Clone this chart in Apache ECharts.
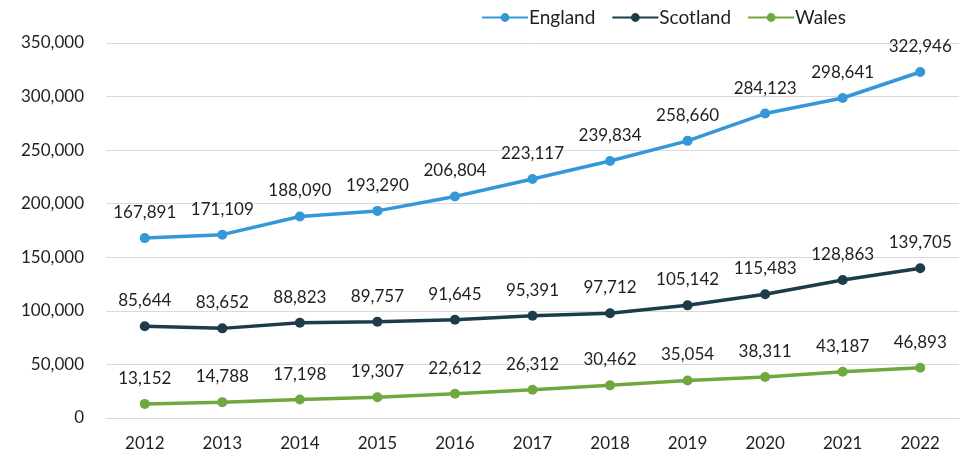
<!DOCTYPE html>
<html><head><meta charset="utf-8">
<script src="https://cdn.jsdelivr.net/npm/echarts@6/dist/echarts.min.js"></script>
<style>html,body{margin:0;padding:0;background:#fff}#c{width:974px;height:457px}</style>
</head><body><div id="c"></div>
<script>
const years = ['2012','2013','2014','2015','2016','2017','2018','2019','2020','2021','2022'];
const england = [167891,171109,188090,193290,206804,223117,239834,258660,284123,298641,322946];
const scotland = [85644,83652,88823,89757,91645,95391,97712,105142,115483,128863,139705];
const wales = [13152,14788,17198,19307,22612,26312,30462,35054,38311,43187,46893];
const FONT = 'Lato';
const TXT = '#1f1f1f';
const fmt = v => v.toLocaleString('en-US');
function mk(name, data, color){
  return {name, type:'line', data, symbol:'circle', symbolSize:10,
    itemStyle:{color}, lineStyle:{width:3.5,color},
    label:{show:true, position:'top', distance:12, color:TXT, fontFamily:FONT, fontSize:17,
      formatter:p=>fmt(p.value)}};
}
const chart = echarts.init(document.getElementById('c'));
chart.setOption({
  animation:false,
  textStyle:{fontFamily:FONT},
  legend:{top:3, left:476, itemWidth:46, itemHeight:11, itemGap:16,
    textStyle:{fontFamily:FONT, fontSize:19, color:TXT, padding:[0,0,0,-4]},
    data:['England','Scotland','Wales']},
  grid:{left:106, right:15, top:43, bottom:39},
  xAxis:{type:'category', data:years, boundaryGap:true,
    axisLine:{show:true, lineStyle:{color:'#d9d9d9'}}, axisTick:{show:false},
    axisLabel:{fontFamily:FONT, fontSize:17, color:TXT, margin:17}},
  yAxis:{type:'value', min:0, max:350000, interval:50000,
    axisLine:{show:false}, axisTick:{show:false},
    splitLine:{lineStyle:{color:'#d9d9d9'}},
    axisLabel:{fontFamily:FONT, fontSize:17, color:TXT, margin:22, formatter:v=>fmt(v)}},
  series:[mk('England',england,'#3498d8'), mk('Scotland',scotland,'#1d3c4a'), mk('Wales',wales,'#6fa83e')]
});
</script></body></html>
